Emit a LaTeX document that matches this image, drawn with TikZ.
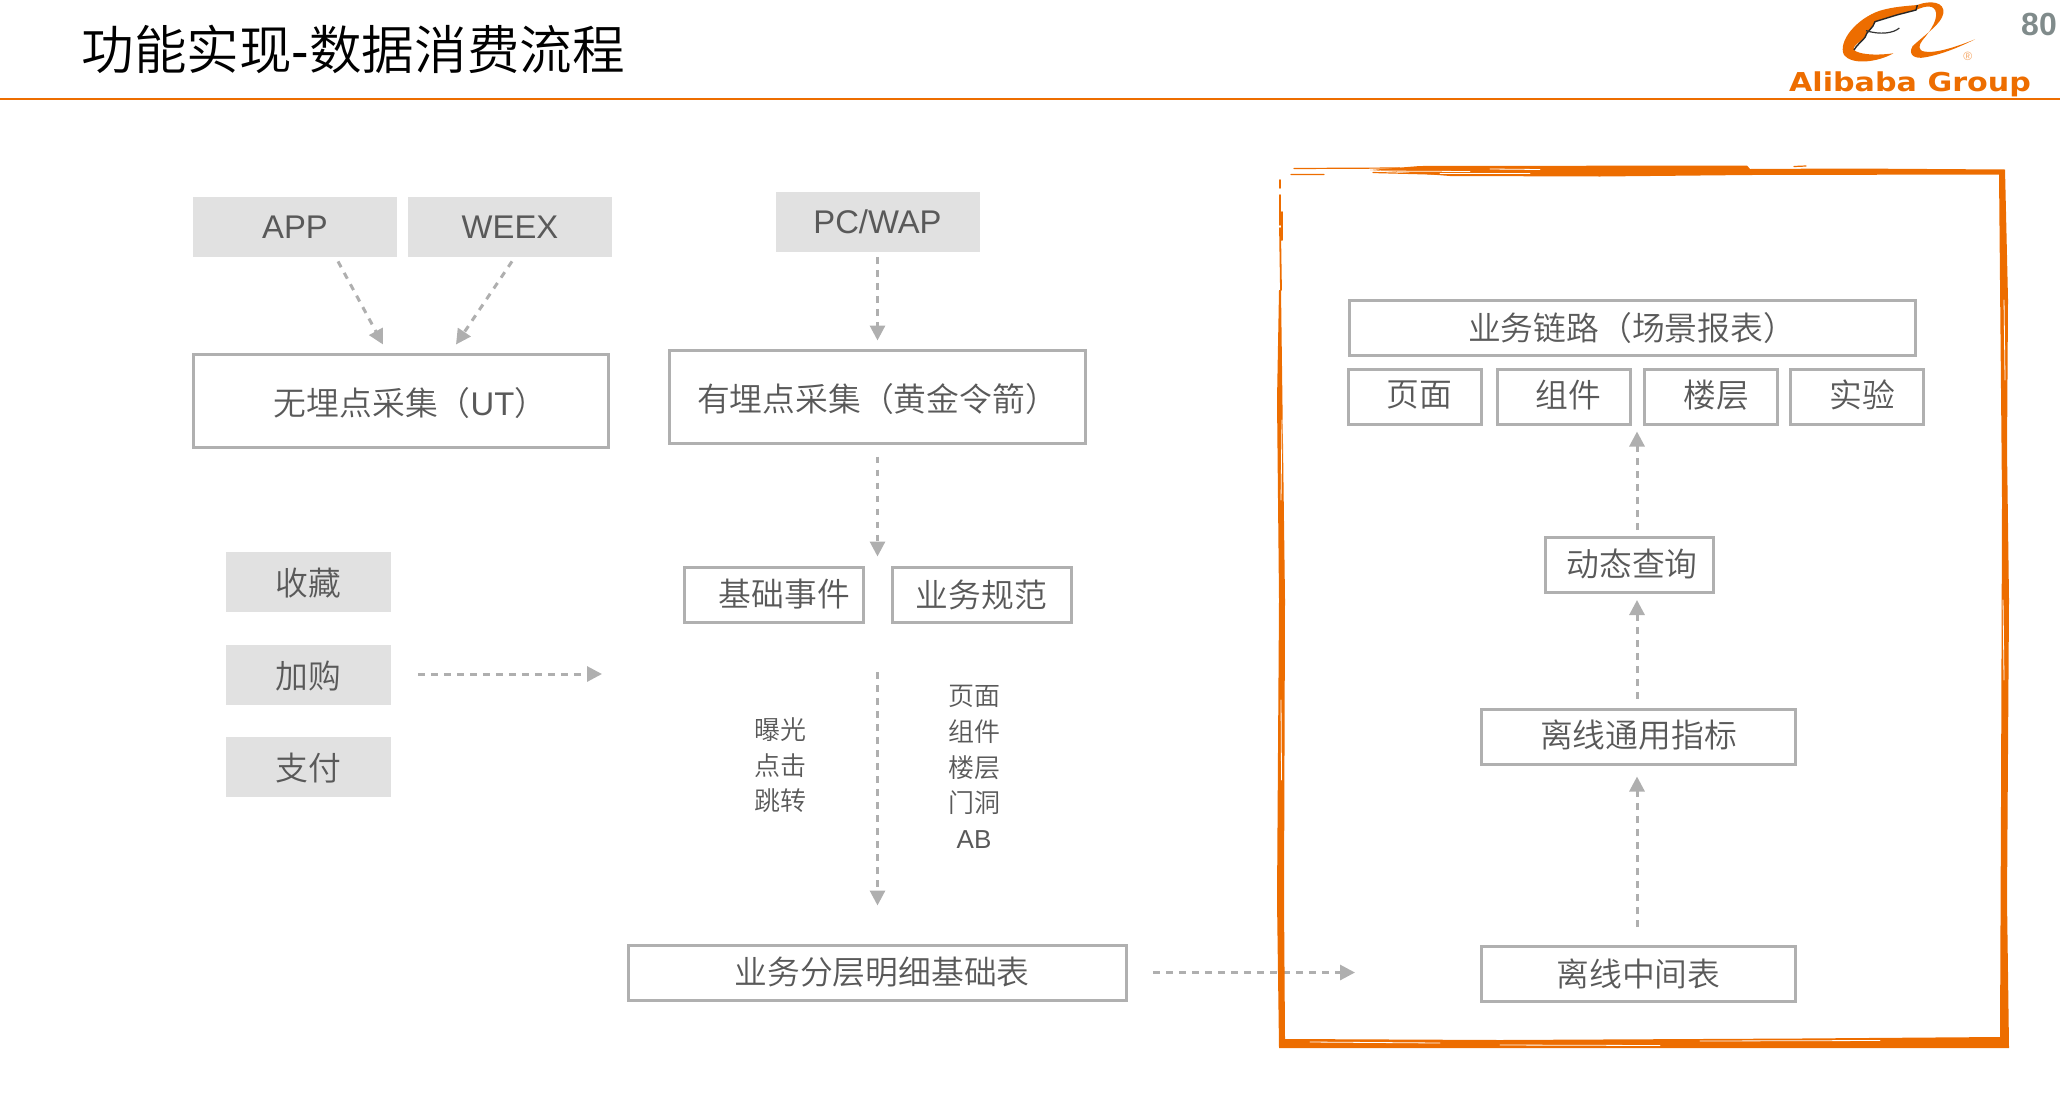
\documentclass[tikz,border=0pt]{standalone}
\usepackage{fontspec}
\setmainfont{Liberation Sans}
\newfontfamily\cjk[UprightFont=* DemiLight]{Noto Sans CJK SC}
\newfontfamily\logofont{DejaVu Sans}
\usetikzlibrary{arrows.meta,calc}
\definecolor{brandorange}{HTML}{ED6D00}
\definecolor{boxgrey}{HTML}{B0B0B0}
\definecolor{tagfill}{HTML}{E1E1E1}
\definecolor{textgrey}{HTML}{595959}
\definecolor{flowgrey}{HTML}{AFAFAF}
\definecolor{pagegrey}{HTML}{808B8B}
\newcommand{\lowertext}[2]{\raisebox{#1}[\height][\depth]{#2}}
\tikzset{
  txt/.style={text=textgrey, font=\fontsize{16.4}{20}\selectfont\cjk, inner sep=0pt},
  tag/.style={txt, fill=tagfill, minimum width=102pt, minimum height=30pt},
  sidetag/.style={tag, minimum width=82.5pt},
  box/.style={txt, draw=boxgrey, line width=1.5pt, minimum height=27.5pt},
  smallbox/.style={box, minimum width=66.5pt},
  note/.style={txt, font=\fontsize{13}{17.8}\selectfont\cjk, align=center},
  flow/.style={draw=flowgrey, line width=1.5pt, dash pattern=on 3.3pt off 3.2pt,
    -{Triangle[length=7.5pt,width=7.5pt]}},
  streak/.style={draw=brandorange, line width=0.6pt, line cap=round},
  gapline/.style={draw=white, line width=0.4pt, line cap=round}
}
\begin{document}
\begin{tikzpicture}[x=0.5pt,y=-0.5pt]
  \useasboundingbox (0,0) rectangle (2060,1114);

  % header
  \node[anchor=west, inner sep=0pt, text=black, font=\fontsize{26.3}{30}\selectfont] (title) at (81,49)
    {{\cjk 功能实现}-{\cjk 数据消费流程}};
  \draw[brandorange, line width=1pt] (0,98.5) -- (2060,98.5);
  \node[inner sep=0pt, text=brandorange, font=\fontsize{13}{16}\selectfont\logofont\bfseries, xscale=1.16, transform shape] (brand) at (1910,84) {Alibaba Group};
  \node[inner sep=0pt, text=pagegrey, font=\fontsize{16}{18}\selectfont\bfseries] (pagenum) at (2039,24) {80};

  % logo
  \begin{scope}[shift={(1830,0)},scale=1/3]
    \fill[brandorange] (262,15) .. controls (300,0) and (345,5) .. (340,40)
      .. controls (335,70) and (290,100) .. (248,138)
      .. controls (232,165) and (255,178) .. (285,172)
      .. controls (340,162) and (390,140) .. (435,118)
      .. controls (380,140) and (320,160) .. (285,155)
      .. controls (262,152) and (266,135) .. (278,120)
      .. controls (295,100) and (322,65) .. (318,38)
      .. controls (314,15) and (290,15) .. (258,30)
      -- (200,45) -- (135,65) .. controls (130,85) and (110,90) .. (105,112)
      .. controls (90,125) and (65,140) .. (72,150)
      .. controls (85,162) and (130,168) .. (190,160)
      .. controls (140,188) and (65,195) .. (42,165)
      .. controls (22,125) and (80,55) .. (150,32)
      .. controls (190,20) and (230,18) .. cycle;
    \draw[black!85, line width=0.7pt] (72,150) .. controls (80,135) and (95,125) .. (105,112)
      .. controls (108,95) and (130,85) .. (135,65) -- (200,45) -- (258,30) -- (262,15);
    \draw[black!80, line width=0.6pt] (108,92) .. controls (150,105) and (190,100) .. (208,84);
    \node[inner sep=0pt, text=brandorange!60, font=\fontsize{6}{7}\selectfont] (regmark) at (413,168) {®};
  \end{scope}

  % left column
  \node[tag] (app) at (295,227) {\rmfamily APP};
  \node[tag] (weex) at (510,227) {\rmfamily WEEX};
  \node[box, minimum width=207.5pt, minimum height=46.5pt] (ut) at (401,400.5) {\kern9.5pt\lowertext{-1.4pt}{无埋点采集（{\rmfamily UT}）}};
  \node[sidetag] (shoucang) at (308,581.5) {\lowertext{-0.7pt}{收藏}};
  \node[sidetag] (jiagou) at (308,674.5) {\lowertext{-0.7pt}{加购}};
  \node[sidetag] (zhifu) at (308,766.5) {\lowertext{-0.7pt}{支付}};
  \coordinate (jiagouend) at (602,674);

  % middle column
  \node[tag] (pcwap) at (877.5,221.5) {\rmfamily PC/WAP};
  \node[box, minimum width=208pt, minimum height=46.5pt] (youmai) at (877.5,396.5) {\lowertext{-1.4pt}{有埋点采集（黄金令箭）}};
  \node[box, minimum width=89.5pt] (jichu) at (773.5,594.5) {\kern11pt 基础事件};
  \node[box, minimum width=89.5pt] (guifan) at (981.5,594.5) {业务规范};
  \node[note] (events) at (780,765.5) {曝光\\点击\\跳转};
  \node[note] (dims) at (974,767) {页面\\组件\\楼层\\门洞\\{\rmfamily AB}};
  \coordinate (detailstart) at (877.5,672);
  \node[box, minimum width=249pt] (detail) at (877.5,972.5) {\kern4.5pt 业务分层明细基础表};

  % right column
  \node[box, minimum width=283pt] (scene) at (1632,328) {业务链路（场景报表）};
  \node[smallbox] (page) at (1414.5,396.5) {\kern5pt\lowertext{0.6pt}{页面}};
  \node[smallbox] (comp) at (1563.5,396.5) {\kern5pt\lowertext{0.6pt}{组件}};
  \node[smallbox] (floor) at (1711,396.5) {\kern5pt\lowertext{0.6pt}{楼层}};
  \node[smallbox] (exper) at (1857,396.5) {\kern5pt\lowertext{0.6pt}{实验}};
  \node[box, minimum width=84pt] (query) at (1629.5,565) {\kern2.5pt\lowertext{0.6pt}{动态查询}};
  \node[box, minimum width=157pt] (metric) at (1638.5,736.5) {\lowertext{0.6pt}{离线通用指标}};
  \node[box, minimum width=157pt] (midtable) at (1638.5,974) {离线中间表};

  % connectors
  \draw[flow] ($(app.south)+(43,4)$) -- ($(ut.north)+(-18,-8)$);
  \draw[flow] ($(weex.south)+(2,4)$) -- ($(ut.north)+(55,-8)$);
  \draw[flow] ($(jiagou.east)+(27,-0.5)$) -- (jiagouend);
  \draw[flow, shorten <=2.5pt, shorten >=4pt] (pcwap.south) -- (youmai.north);
  \draw[flow, shorten <=6pt, shorten >=4.5pt] (youmai.south) -- (youmai.south |- jichu.north);
  \draw[flow, shorten >=19pt] (detailstart) -- (detail.north);
  \draw[flow, shorten <=12.5pt, shorten >=62.5pt] (detail.east) -- (detail.east -| midtable.west);
  \draw[flow, shorten <=9pt, shorten >=5.5pt] ($(midtable.north)+(-1.5,0)$) -- ($(metric.south)+(-1.5,0)$);
  \draw[flow, shorten <=4.5pt, shorten >=3pt] ($(metric.north)+(-1.5,0)$) -- ($(metric.north |- query.south)+(-1.5,0)$);
  \draw[flow, shorten <=3pt, shorten >=3pt] ($(metric.north |- query.north)+(-1.5,0)$) -- ($(metric.north |- comp.south)+(-1.5,0)$);

  % frame on the right
  \fill[brandorange] (1370,170) -- (1420,166) -- (1747,165.5) -- (1750,169) -- (1850,168.5) -- (2005,169.5)
    -- (2008,300) -- (2007,450) -- (2009,600) -- (2007,900) -- (2009,1048) -- (1279,1048) -- (1277,900)
    -- (1279,600) -- (1277,400) -- (1279,290) -- (1281,290) -- (1285,600) -- (1284,900) -- (1285,1039)
    -- (1500,1040) -- (1800,1038.5) -- (2000,1037) -- (2001,800) -- (2002,500) -- (1999,174.5)
    -- (1750,175) -- (1600,176.5) -- (1450,176) -- (1400,172) -- cycle;
  \draw[streak] (1294,168.5) -- (1400,168) (1291,174.5) -- (1324,174.5) (1373,172.5) -- (1470,175);
  \draw[streak] (1794,166.5) -- (1806,166);
  \draw[streak, line width=0.9pt] (1280,180) -- (1280,188) (1280,195) -- (1280,225) (1282,212) -- (1282,240) (1280,228) -- (1281,290);
  % worn edges of the brush strokes
  \draw[gapline] (1380,171) -- (1470,171.5) (1440,173.5) -- (1530,173.5) (1490,169) -- (1540,169.5);
  \draw[gapline] (1310,1042) -- (1440,1043) (1500,1045) -- (1660,1045.5) (1700,1041) -- (1880,1040.5);
  \draw[gapline] (2004,300) -- (2005,380) (2003,600) -- (2004,680) (1281,700) -- (1281.5,780) (1282,420) -- (1281,500);
\end{tikzpicture}
\end{document}
